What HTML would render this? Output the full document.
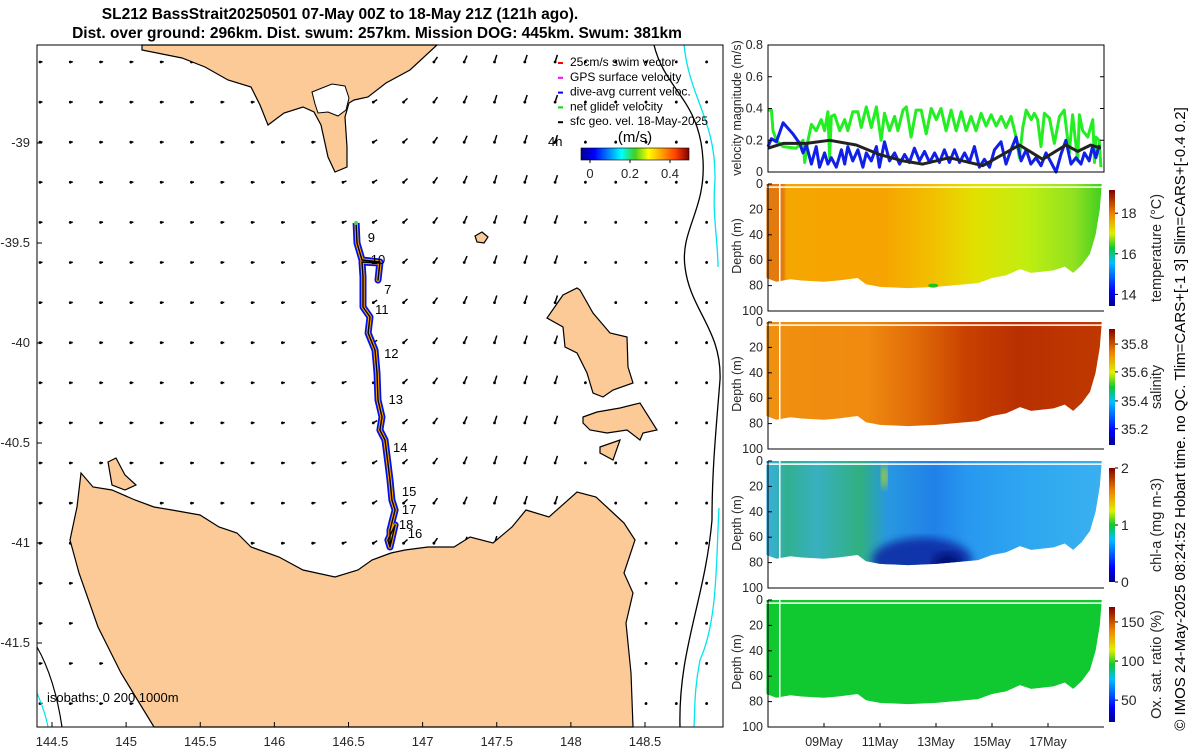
<!DOCTYPE html>
<html><head><meta charset="utf-8"><style>
html,body{margin:0;padding:0;background:#fff;}
svg{display:block;font-family:"Liberation Sans",sans-serif;}
</style></head><body>
<svg id="fig" width="1200" height="750" viewBox="0 0 1200 750">
<defs>
<linearGradient id="jetH" x1="0" x2="1" y1="0" y2="0">
<stop offset="0" stop-color="#00008f"/><stop offset="0.125" stop-color="#0000ff"/><stop offset="0.375" stop-color="#00ffff"/><stop offset="0.5" stop-color="#40d020"/><stop offset="0.625" stop-color="#ffff00"/><stop offset="0.875" stop-color="#ff4000"/><stop offset="1" stop-color="#800000"/></linearGradient>
<linearGradient id="jetV" x1="0" x2="0" y1="1" y2="0">
<stop offset="0" stop-color="#00008f"/><stop offset="0.125" stop-color="#0000ff"/><stop offset="0.375" stop-color="#00c0ff"/><stop offset="0.5" stop-color="#10c830"/><stop offset="0.625" stop-color="#e0f000"/><stop offset="0.8" stop-color="#f08000"/><stop offset="1" stop-color="#800000"/></linearGradient>
<linearGradient id="gTemp" x1="0" x2="1">
<stop offset="0" stop-color="#e27a10"/><stop offset="0.05" stop-color="#e27a10"/><stop offset="0.06" stop-color="#f6a600"/><stop offset="0.35" stop-color="#f6a400"/><stop offset="0.5" stop-color="#f2c000"/><stop offset="0.62" stop-color="#e2e000"/><stop offset="0.78" stop-color="#bfee10"/><stop offset="0.92" stop-color="#90e020"/><stop offset="1" stop-color="#40d020"/></linearGradient>
<linearGradient id="gSal" x1="0" x2="1">
<stop offset="0" stop-color="#f09010"/><stop offset="0.3" stop-color="#f08a10"/><stop offset="0.45" stop-color="#e06a08"/><stop offset="0.6" stop-color="#c84000"/><stop offset="0.75" stop-color="#b83000"/><stop offset="1" stop-color="#c03800"/></linearGradient>
<linearGradient id="gChl" x1="0" x2="1">
<stop offset="0" stop-color="#38b0e8"/><stop offset="0.06" stop-color="#30b090"/><stop offset="0.15" stop-color="#38b0c0"/><stop offset="0.28" stop-color="#30b080"/><stop offset="0.36" stop-color="#2898e0"/><stop offset="0.5" stop-color="#2080e8"/><stop offset="0.6" stop-color="#2898f0"/><stop offset="0.8" stop-color="#30a8f0"/><stop offset="1" stop-color="#38b0f0"/></linearGradient>
<linearGradient id="gChlV" x1="0" x2="0" y1="0" y2="1">
<stop offset="0" stop-color="#0020a0" stop-opacity="0"/><stop offset="0.5" stop-color="#0020a0" stop-opacity="0"/><stop offset="1" stop-color="#001080" stop-opacity="0.75"/></linearGradient>
<filter id="blur2"><feGaussianBlur stdDeviation="4"/></filter>
</defs>
<g id="mapLayer"></g>
<g id="rightLayer"></g>
</svg>
<script>
var NS='http://www.w3.org/2000/svg';
function mk(parent,tag,attrs,txt){var e=document.createElementNS(NS,tag);for(var k in attrs)e.setAttribute(k,attrs[k]);if(txt!==undefined)e.textContent=txt;parent.appendChild(e);return e;}
var map=document.getElementById('mapLayer');
var right=document.getElementById('rightLayer');
var svg=document.getElementById('fig');

// ===== map data =====
var lonTicks=[144.5,145,145.5,146,146.5,147,147.5,148,148.5];
var latTicks=[-39,-39.5,-40,-40.5,-41,-41.5];
var trackLon=[146.551,146.557,146.591,146.712,146.699,146.712,146.591,146.598,146.598,146.645,146.632,146.679,146.692,146.699,146.726,146.712,146.746,146.766,146.780,146.793,146.814,146.780,146.780,146.814,146.766,146.780];
var trackLat=[-39.40,-39.50,-39.585,-39.595,-39.685,-39.60,-39.595,-39.67,-39.82,-39.87,-39.95,-40.035,-40.15,-40.285,-40.37,-40.435,-40.485,-40.60,-40.685,-40.785,-40.835,-40.935,-41.02,-40.91,-40.985,-41.02];
var dayLabels=['9','10','7','11','12','13','14','15','17','18','16'];
var dayLabLon=[146.63,146.65,146.74,146.68,146.74,146.77,146.80,146.86,146.86,146.84,146.90];
var dayLabLat=[-39.475,-39.585,-39.735,-39.835,-40.055,-40.285,-40.525,-40.745,-40.835,-40.91,-40.955];

function lonX(l){return 52+(l-144.5)*148.25;}
function latY(l){return 143+(-39-l)*200;}
var L=37,R=723,T=45,B=727;

// arrows
var ag=mk(map,'g',{});


for(var r=0;r<17;r++){for(var c=0;c<23;c++){
 var x=40+c*30.3,y=62+r*40.1; if(x>R-4)continue;
 var f=Math.min(1,Math.max(0,(x-300)/180));
 var ang=(1-f)*(-5)+f*(-72); var len=2.5+f*5;
 if(x>560)len=1.5;
 var a=ang*Math.PI/180; var x2=x+len*Math.cos(a), y2=y+len*Math.sin(a);
 mk(ag,'line',{x1:x,y1:y,x2:x2,y2:y2,stroke:'#000','stroke-width':1.5});
 mk(ag,'circle',{cx:x,cy:y,r:1.4,fill:'#000'});
}}

// land
var landStyle={fill:'#fbca97',stroke:'#000','stroke-width':1.2};
var vic=mk(map,'polygon',Object.assign({points:'142,45 142,50 182,58 205,67 228,80 251,87 260,105 268,125 284,113 303,107 314,112 321,125 328,157 335,172 347,167 347,147 345,117 349,103 354,100 368,97 386,83 410,70 437,45'},landStyle));


var inlet=mk(map,'polygon',{points:'312,92 322,88 332,84 345,86 349,98 346,110 338,116 328,112 318,113 315,104',fill:'#fff',stroke:'#000','stroke-width':1});


var tas=mk(map,'polygon',Object.assign({points:'81,473 93,487 112,490 135,500 154,507 172,510 200,515 219,527 237,533 251,547 279,557 303,570 335,577 358,570 372,560 391,553 405,550 428,547 454,547 470,537 493,543 512,527 526,510 549,517 577,492 596,497 610,510 624,523 635,540 624,573 633,593 626,623 631,673 633,727 154,727 121,673 98,627 79,573 70,540 77,507'},landStyle));


var rob=mk(map,'polygon',Object.assign({points:'108,462 116,458 125,475 136,485 125,490 112,485'},landStyle));


var fl=mk(map,'polygon',Object.assign({points:'580,290 593,313 610,333 627,337 628,367 633,383 613,390 603,397 593,393 587,373 577,353 565,347 563,327 547,318 563,295 577,288'},landStyle));


var cb=mk(map,'polygon',Object.assign({points:'583,417 597,412 620,408 640,403 657,430 643,433 640,440 627,430 607,433 590,430 583,423'},landStyle));


var ck=mk(map,'polygon',Object.assign({points:'600,447 620,440 613,460 600,453'},landStyle));


var ki=mk(map,'polygon',Object.assign({points:'475,236 482,232 488,237 484,243 477,242'},landStyle));



// isobaths
var iso1=mk(map,'path',{d:'M654,45 C665,90 700,100 703,160 C706,210 680,230 685,267 C690,310 722,330 720,380 C716,430 712,470 712,520 C705,600 678,650 680,727',fill:'none',stroke:'#000','stroke-width':1.3});


var iso2=mk(map,'path',{d:'M684,45 C690,100 716,120 715,180 C712,215 718,240 718,267 M719,508 C716,560 718,620 700,660 C694,690 695,710 694,727',fill:'none',stroke:'#00e5ee','stroke-width':1.3});


mk(map,'path',{d:'M37,647 C50,670 58,700 62,727',fill:'none',stroke:'#000','stroke-width':1.2});
mk(map,'path',{d:'M37,693 C42,705 46,716 48,727',fill:'none',stroke:'#00e5ee','stroke-width':1.2});

// track
var pts=trackLon.map(function(l,i){return lonX(l).toFixed(1)+','+latY(trackLat[i]).toFixed(1);}).join(' ');
var tb=mk(map,'polyline',{points:pts,fill:'none',stroke:'#0010f0','stroke-width':7,'stroke-linejoin':'round'});


var to=mk(map,'polyline',{points:pts,fill:'none',stroke:'#f5a000','stroke-width':3.5,'stroke-linejoin':'round'});


var tk=mk(map,'polyline',{points:pts,fill:'none',stroke:'#000','stroke-width':1.4,'stroke-linejoin':'round'});


mk(map,'circle',{cx:lonX(trackLon[0]),cy:latY(trackLat[0]),r:2,fill:'#40e040'});
dayLabels.forEach(function(s,i){
 var t=mk(map,'text',{x:lonX(dayLabLon[i]),y:latY(dayLabLat[i])+4,'font-size':13,fill:'#000'},s);
 
 
});

// frame + ticks
var mf=mk(map,'rect',{x:L,y:T,width:R-L,height:B-T,fill:'none',stroke:'#000','stroke-width':1});


lonTicks.forEach(function(l){var x=lonX(l);
 mk(map,'line',{x1:x,y1:B,x2:x,y2:B-5,stroke:'#000'});
 var t=mk(map,'text',{x:x,y:746,'font-size':13,'text-anchor':'middle',fill:'#262626'},String(l));
 
 
});
latTicks.forEach(function(l){var y=latY(l);
 mk(map,'line',{x1:L,y1:y,x2:L+5,y2:y,stroke:'#000'});
 var t=mk(map,'text',{x:30,y:y+4,'font-size':13,'text-anchor':'end',fill:'#262626'},String(l));
 
 
});
var iso=mk(map,'text',{x:47,y:702,'font-size':13,fill:'#000','xml:space':'preserve'},'isobaths: 0   200  1000m');



// title
var t1=mk(svg,'text',{x:340,y:19,'font-size':15.5,'font-weight':'bold','text-anchor':'middle',fill:'#000'},'SL212 BassStrait20250501 07-May 00Z to 18-May 21Z (121h ago).');


var t2=mk(svg,'text',{x:377,y:38,'font-size':15.5,'font-weight':'bold','text-anchor':'middle',fill:'#000'},'Dist. over ground: 296km. Dist. swum: 257km. Mission DOG: 445km. Swum: 381km');



// legend
var legText=['25cm/s swim vector','GPS surface velocity','dive-avg current veloc.','net glider velocity','sfc geo. vel. 18-May-2025'];
var legCol=['#ff0000','#ff00ff','#0000ff','#00dd00','#000000'];
legText.forEach(function(s,i){var y=66+i*14.8;
 var g=mk(map,'g',{});
 
 
 mk(g,'line',{x1:558,y1:y-3,x2:563,y2:y-3,stroke:legCol[i],'stroke-width':2});
 mk(g,'text',{x:570,y:y,'font-size':12,fill:'#000'},s);
});
var h4=mk(map,'text',{x:548,y:146,'font-size':13,fill:'#000'},'4h');


var ms=mk(map,'text',{x:635,y:142,'font-size':15,'text-anchor':'middle',fill:'#000'},'(m/s)');


var cbh=mk(map,'rect',{x:581,y:148,width:108,height:12,fill:'url(#jetH)',stroke:'#000','stroke-width':0.6});


var spTicks=[0,0.2,0.4];
spTicks.forEach(function(v){var x=590+v*200;
 mk(map,'line',{x1:x,y1:160,x2:x,y2:163,stroke:'#000'});
 var t=mk(map,'text',{x:x,y:178,'font-size':13,'text-anchor':'middle',fill:'#262626'},String(v));
 
 
});

// ===== right panels =====
var greenT=[0,0.12,0.18,0.30,0.54,1.01,1.25,1.31,1.43,1.55,1.72,1.90,2.02,2.14,2.20,2.26,2.38,2.56,2.74,2.85,3.03,3.21,3.33,3.51,3.69,3.87,4.04,4.16,4.34,4.52,4.64,4.82,4.94,5.11,5.29,5.47,5.65,5.83,6.01,6.18,6.36,6.54,6.72,6.90,7.08,7.25,7.43,7.61,7.79,7.97,8.15,8.33,8.50,8.68,8.86,8.98,9.10,9.22,9.40,9.51,9.63,9.75,9.87,10.05,10.23,10.41,10.58,10.76,10.88,11.06,11.12,11.24,11.42,11.60,11.66,11.71,11.83,11.89];
var greenV=[0.39,0.39,0.26,0.20,0.16,0.15,0.20,0.06,0.20,0.30,0.26,0.33,0.26,0.38,0.09,0.35,0.36,0.26,0.33,0.26,0.38,0.38,0.28,0.41,0.28,0.41,0.20,0.37,0.26,0.35,0.26,0.39,0.41,0.22,0.39,0.39,0.24,0.40,0.33,0.40,0.26,0.39,0.26,0.38,0.26,0.35,0.26,0.37,0.29,0.36,0.29,0.35,0.28,0.35,0.22,0.09,0.28,0.39,0.33,0.37,0.33,0.16,0.37,0.34,0.18,0.35,0.39,0.12,0.36,0.07,0.36,0.26,0.22,0.33,0.06,0.22,0.20,0.03];
var blueT=[0,0.12,0.30,0.54,0.89,1.13,1.25,1.37,1.55,1.72,1.84,2.02,2.14,2.26,2.44,2.62,2.74,2.85,3.03,3.21,3.39,3.51,3.69,3.87,3.98,4.16,4.34,4.52,4.70,4.88,5.05,5.23,5.41,5.59,5.77,5.95,6.12,6.30,6.48,6.66,6.84,7.02,7.19,7.37,7.55,7.73,7.91,8.09,8.32,8.50,8.68,8.86,9.04,9.22,9.39,9.57,9.75,9.93,10.11,10.29,10.46,10.64,10.82,11.00,11.18,11.30,11.47,11.59,11.71,11.83];
var blueV=[0.16,0.21,0.19,0.31,0.24,0.18,0.12,0.17,0.05,0.16,0.03,0.12,0.05,0.09,0.03,0.14,0.05,0.16,0.07,0.14,0.03,0.12,0.07,0.16,0.03,0.19,0.07,0.12,0.05,0.11,0.06,0.15,0.07,0.13,0.06,0.12,0.06,0.14,0.06,0.14,0.06,0.12,0.06,0.16,0.03,0.08,0.03,0.14,0.19,0.05,0.14,0.22,0.07,0.14,0.05,0.09,0.04,0.12,0.06,0.00,0.11,0.20,0.05,0.09,0.05,0.12,0.07,0.16,0.09,0.17];
var blackT=[0,0.54,1.37,2.20,3.15,3.98,4.82,5.53,6.48,7.67,8.98,9.81,10.64,11.06,11.53,11.89];
var blackV=[0.15,0.18,0.18,0.20,0.17,0.11,0.07,0.05,0.09,0.04,0.17,0.08,0.17,0.13,0.17,0.15];
var velTicks=[0,0.2,0.4,0.6,0.8];
var dateTicks=['09May','11May','13May','15May','17May'];
var dateTickDays=[2,4,6,8,10];
var depthTicks=[0,20,40,60,80,100];
var profT=[-0.06,0.3,0.54,0.8,1.2,2.0,2.5,3.2,3.5,4.0,5.0,6.0,6.5,7.5,8.0,8.5,9.0,9.4,9.8,10.2,10.6,10.9,11.2,11.5,11.7,11.85,11.92];
var profD=[74,77,76,75,76,77,76,74,79,81,82,81,80,78,74,72,67,70,69,68,65,70,64,55,40,20,0];
var sectNames=['temperature','salinity','chl-a','oxygen-saturation'];
var sectLabels=['temperature (°C)','salinity','chl-a (mg m-3)','Ox. sat. ratio (%)'];
var cbTickLabels=[['18','16','14'],['35.8','35.6','35.4','35.2'],['2','1','0'],['150','100','50']];
var cbTickFrac=[[0.8,0.45,0.1],[0.87,0.63,0.38,0.14],[1,0.5,0],[0.87,0.53,0.19]];

var PX0=768,PX1=1104;
function tx(d){return PX0+d*28;}
var VT=45,VB=172;
function vy(v){return VB-v*(VB-VT)/0.8;}

// velocity panel
var vp=mk(right,'g',{});


mk(vp,'rect',{x:PX0,y:VT,width:PX1-PX0,height:VB-VT,fill:'#fff'});
function line(parent,T,V,col,w,name){
 var p=mk(parent,'polyline',{points:T.map(function(t,i){return tx(t).toFixed(1)+','+vy(V[i]).toFixed(1);}).join(' '),fill:'none',stroke:col,'stroke-width':w,'stroke-linejoin':'round'});
 
 
}
line(vp,greenT,greenV,'#22ee22',3,'net-glider-velocity-line');
line(vp,blueT,blueV,'#1020e8',3,'dive-avg-current-line');
line(vp,blackT,blackV,'#222',3,'geostrophic-velocity-line');
mk(vp,'rect',{x:PX0,y:VT,width:PX1-PX0,height:VB-VT,fill:'none',stroke:'#000'});
velTicks.forEach(function(v){var y=vy(v);
 mk(vp,'line',{x1:PX0,y1:y,x2:PX0+4,y2:y,stroke:'#000'});
 mk(vp,'line',{x1:PX1,y1:y,x2:PX1-4,y2:y,stroke:'#000'});
 var t=mk(vp,'text',{x:PX0-5,y:y+4,'font-size':12.5,'text-anchor':'end',fill:'#262626'},String(v));
 
 
});
var vyl=mk(vp,'text',{x:0,y:0,'font-size':12.5,'text-anchor':'middle',fill:'#262626',transform:'translate(741,108) rotate(-90)'},'velocity magnitude (m/s)');



// sections
var sectTop=[184,322,461,600];
var fills=['url(#gTemp)','url(#gSal)','url(#gChl)','#10c830'];
var cbTop=[190,329,468,607],cbBot=[306,445,582,722];
sectTop.forEach(function(top,k){
 var g=mk(right,'g',{});
 
 
 function dy(d){return top+d*1.27;}
 var bot=dy(100);
 var poly=[tx(profT[0])+','+dy(0)];
 profT.forEach(function(t,i){poly.push(tx(t).toFixed(1)+','+dy(profD[i]).toFixed(1));});
 poly.push(tx(profT[profT.length-1])+','+dy(0));
 var cp=mk(svg.querySelector('defs'),'clipPath',{id:'clip'+k});
 mk(cp,'polygon',{points:poly.join(' ')});
 var area=mk(g,'rect',{x:tx(-0.06),y:dy(-2),width:tx(11.92)-tx(-0.06),height:90*1.27,fill:fills[k],'clip-path':'url(#clip'+k+')'});
 
 
 if(k===2){
  var cg=mk(g,'g',{'clip-path':'url(#clip2)'});
  mk(cg,'ellipse',{cx:tx(5.5),cy:dy(78),rx:50,ry:22,fill:'#0828a0',opacity:0.85,filter:'url(#blur2)'});
  mk(cg,'ellipse',{cx:tx(6.4),cy:dy(82),rx:14,ry:12,fill:'#000a70',opacity:0.9,filter:'url(#blur2)'});
  mk(cg,'ellipse',{cx:tx(4.15),cy:dy(12),rx:3,ry:12,fill:'#c8e000',filter:'url(#blur2)'});
 }
 if(k===0){mk(g,'ellipse',{cx:tx(5.9),cy:dy(80),rx:5,ry:2,fill:'#20c020'});}
 mk(g,'line',{x1:tx(0.42),y1:dy(-2),x2:tx(0.42),y2:dy(78),stroke:'#fff','stroke-width':1.5});
 mk(g,'line',{x1:tx(-0.06),y1:dy(2.5),x2:tx(11.92),y2:dy(2.5),stroke:'#fff','stroke-width':1.5});
 mk(g,'polyline',{points:PX0+','+top+' '+PX0+','+bot+' '+PX1+','+bot,fill:'none',stroke:'#000'});
 depthTicks.forEach(function(d){var y=dy(d);
  mk(g,'line',{x1:PX0,y1:y,x2:PX0+4,y2:y,stroke:'#000'});
  var t=mk(g,'text',{x:PX0-5,y:y+4,'font-size':12.5,'text-anchor':'end',fill:'#262626'},String(d));
  
  
 });
 var yl=mk(g,'text',{x:0,y:0,'font-size':12.5,'text-anchor':'middle',fill:'#262626',transform:'translate(741,'+(top+62)+') rotate(-90)'},'Depth (m)');
 
 
 var cb=mk(g,'rect',{x:1109,y:cbTop[k],width:6,height:cbBot[k]-cbTop[k],fill:'url(#jetV)'});
 
 
 cbTickLabels[k].forEach(function(s,i){var y=cbBot[k]-cbTickFrac[k][i]*(cbBot[k]-cbTop[k]);
  mk(g,'line',{x1:1115,y1:y,x2:1118,y2:y,stroke:'#000'});
  var t=mk(g,'text',{x:1121,y:y+5,'font-size':14,fill:'#262626'},s);
  
  
 });
 var cl=mk(g,'text',{x:0,y:0,'font-size':14.5,'text-anchor':'middle',fill:'#262626',transform:'translate(1161,'+((cbTop[k]+cbBot[k])/2)+') rotate(-90)'},sectLabels[k]);
 
 
});
// date ticks
dateTicks.forEach(function(s,i){var x=tx(dateTickDays[i]);
 mk(right,'line',{x1:x,y1:727,x2:x,y2:723,stroke:'#000'});
 var t=mk(right,'text',{x:x,y:746,'font-size':12.5,'text-anchor':'middle',fill:'#262626'},s);
 
 
});
var cr=mk(right,'text',{x:0,y:0,'font-size':15,'text-anchor':'middle',fill:'#000',transform:'translate(1185,419) rotate(-90)'},'© IMOS 24-May-2025 08:24:52 Hobart time. no QC. Tlim=CARS+[-1 3] Slim=CARS+[-0.4 0.2]');


</script>
</body></html>
